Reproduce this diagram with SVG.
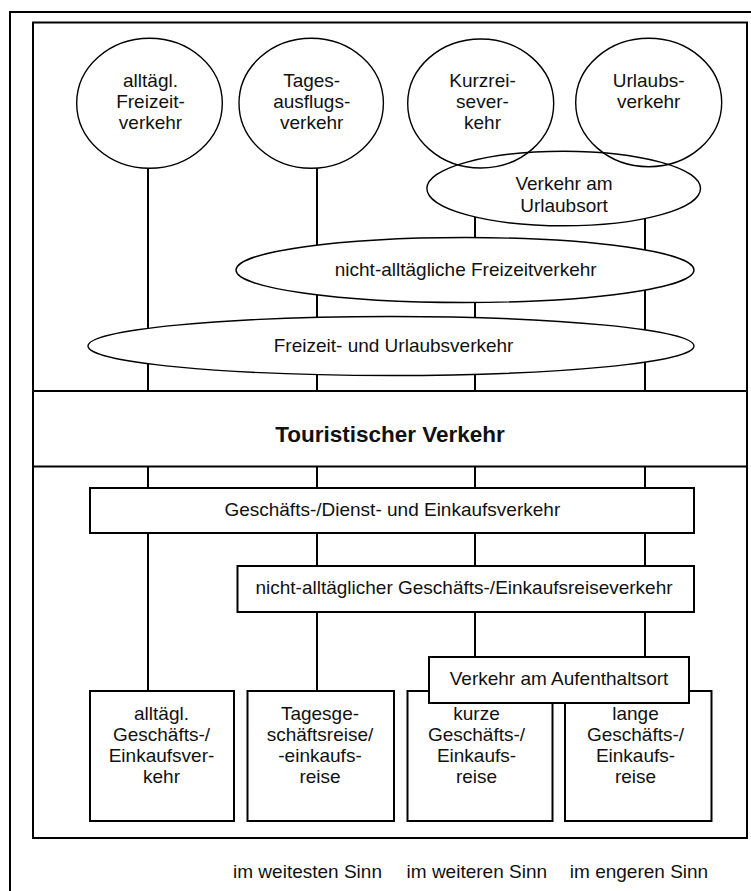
<svg xmlns="http://www.w3.org/2000/svg" width="751" height="891" viewBox="0 0 751 891">
<style>
  .frame{fill:none;stroke:#000;stroke-width:2}
  .band{fill:#fff;stroke:#000;stroke-width:2}
  .ell{fill:#fff;stroke:#000;stroke-width:1.4}
  .ring{fill:none;stroke:#000;stroke-width:1.4}
  .box{fill:#fff;stroke:#000;stroke-width:2}
  .con{stroke:#000;stroke-width:2;fill:none}
  text{font-family:"Liberation Sans",Arial,sans-serif;font-size:19px;fill:#111;text-anchor:middle}
  .bold{font-weight:bold;font-size:22.5px}
</style>
<rect width="751" height="891" fill="#fff"/>
<g id="frames">
  <rect class="frame" x="10" y="12" width="780" height="900"/>
  <rect class="frame" x="33" y="22.5" width="714" height="815.5"/>
</g>
<g id="connectors">
  <line class="con" x1="148" y1="168" x2="148" y2="391"/>
  <line class="con" x1="317" y1="168" x2="317" y2="391"/>
  <line class="con" x1="475" y1="217" x2="475" y2="391"/>
  <line class="con" x1="645" y1="218" x2="645" y2="391"/>
  <line class="con" x1="148" y1="466" x2="148" y2="691"/>
  <line class="con" x1="317" y1="466" x2="317" y2="691"/>
  <line class="con" x1="475" y1="466" x2="475" y2="657"/>
  <line class="con" x1="645" y1="466" x2="645" y2="657"/>
</g>
<g id="touristischer-verkehr">
  <rect class="band" x="33" y="391" width="714" height="75.5"/>
  <text class="bold" x="390" y="442">Touristischer Verkehr</text>
</g>
<g id="alltaegl-freizeitverkehr">
  <ellipse class="ring" cx="149.5" cy="103.3" rx="72.8" ry="65"/>
  <text x="150.5" y="87">alltägl.</text>
  <text x="150.5" y="108">Freizeit-</text>
  <text x="150.5" y="129">verkehr</text>
</g>
<g id="tagesausflugsverkehr">
  <ellipse class="ring" cx="311.2" cy="103.3" rx="72.2" ry="65"/>
  <text x="311.7" y="87">Tages-</text>
  <text x="311.7" y="108">ausflugs-</text>
  <text x="311.7" y="129">verkehr</text>
</g>
<g id="kurzreiseverkehr">
  <ellipse class="ring" cx="480.7" cy="103.5" rx="73" ry="64.5"/>
  <text x="482.5" y="87">Kurzrei-</text>
  <text x="482.5" y="108">sever-</text>
  <text x="482.5" y="129">kehr</text>
</g>
<g id="urlaubsverkehr">
  <ellipse class="ring" cx="648.7" cy="102.5" rx="73" ry="64.2"/>
  <text x="648.7" y="87">Urlaubs-</text>
  <text x="648.7" y="108">verkehr</text>
</g>
<g id="verkehr-am-urlaubsort">
  <ellipse class="ring" cx="563.7" cy="188.5" rx="136.8" ry="37.3"/>
  <text x="564" y="189.5">Verkehr am</text>
  <text x="564" y="211.5">Urlaubsort</text>
</g>
<g id="nicht-alltaegliche-freizeitverkehr">
  <ellipse class="ell" cx="465" cy="270" rx="229" ry="32.5"/>
  <text x="465.7" y="275.5">nicht-alltägliche Freizeitverkehr</text>
</g>
<g id="freizeit-und-urlaubsverkehr">
  <ellipse class="ell" cx="391" cy="346" rx="303" ry="29.5"/>
  <text x="393.6" y="351.5">Freizeit- und Urlaubsverkehr</text>
</g>
<g id="geschaeftsverkehr">
  <rect class="box" x="90" y="488" width="604" height="45"/>
  <text x="392.3" y="516">Geschäfts-/Dienst- und Einkaufsverkehr</text>
</g>
<g id="nicht-alltaeglicher-geschaeftsreiseverkehr">
  <rect class="box" x="237.5" y="566" width="456.5" height="46"/>
  <text x="464" y="593.5">nicht-alltäglicher Geschäfts-/Einkaufsreiseverkehr</text>
</g>
<g id="alltaegl-geschaeftsverkehr">
  <rect class="box" x="90" y="691" width="144" height="130"/>
  <text x="161.5" y="720">alltägl.</text>
  <text x="161.5" y="741">Geschäfts-/</text>
  <text x="161.5" y="762">Einkaufsver-</text>
  <text x="161.5" y="783">kehr</text>
</g>
<g id="tagesgeschaeftsreise">
  <rect class="box" x="247.5" y="691" width="146.5" height="130"/>
  <text x="320" y="720">Tagesge-</text>
  <text x="320" y="741">schäftsreise/</text>
  <text x="320" y="762">-einkaufs-</text>
  <text x="320" y="783">reise</text>
</g>
<g id="kurze-geschaeftsreise">
  <rect class="box" x="407.5" y="691" width="145" height="130"/>
  <text x="476.5" y="720">kurze</text>
  <text x="476.5" y="741">Geschäfts-/</text>
  <text x="476.5" y="762">Einkaufs-</text>
  <text x="476.5" y="783">reise</text>
</g>
<g id="lange-geschaeftsreise">
  <rect class="box" x="565" y="691" width="146.5" height="130"/>
  <text x="635.5" y="720">lange</text>
  <text x="635.5" y="741">Geschäfts-/</text>
  <text x="635.5" y="762">Einkaufs-</text>
  <text x="635.5" y="783">reise</text>
</g>
<g id="verkehr-am-aufenthaltsort">
  <rect class="box" x="429" y="657" width="260" height="46"/>
  <text x="559" y="685">Verkehr am Aufenthaltsort</text>
</g>
<g id="legend">
  <text x="307.5" y="878">im weitesten Sinn</text>
  <text x="476.8" y="878">im weiteren Sinn</text>
  <text x="639" y="878">im engeren Sinn</text>
</g>
</svg>
